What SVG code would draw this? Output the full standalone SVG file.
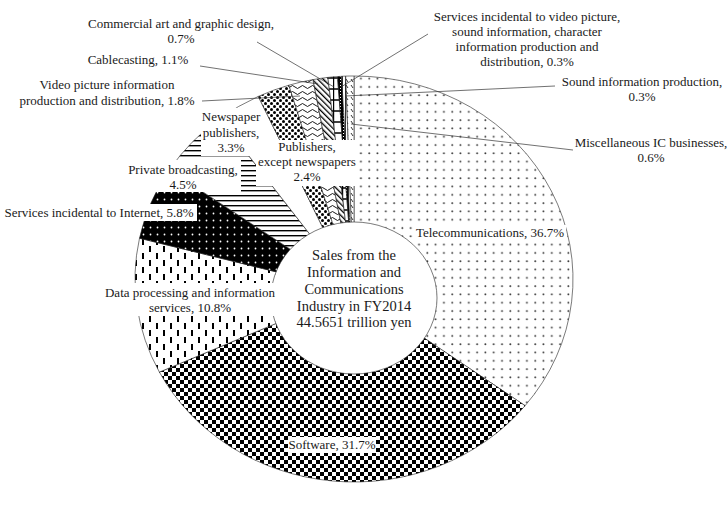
<svg xmlns="http://www.w3.org/2000/svg" width="728" height="511" viewBox="0 0 728 511">
<style>
text{font-family:"Liberation Serif","Times New Roman",serif;font-size:13px;fill:#1a1a1a;text-anchor:middle}
.ctr{font-size:14.5px}
.sl{stroke:#222;stroke-width:0.6}
.lead{stroke:#333;stroke-width:0.7;fill:none}
.bg{fill:#fff}
</style>
<defs>
<pattern id="pTel" width="8.3" height="8.3" patternUnits="userSpaceOnUse"><rect width="8.3" height="8.3" fill="#fff"/><circle cx="4" cy="4" r="0.95" fill="#333"/></pattern>
<pattern id="pSoft" width="8" height="8" patternUnits="userSpaceOnUse"><rect width="8" height="8" fill="#fff"/><rect width="4" height="4" fill="#000"/><rect x="4" y="4" width="4" height="4" fill="#000"/></pattern>
<pattern id="pData" width="14" height="14" patternUnits="userSpaceOnUse"><rect width="14" height="14" fill="#fff"/><rect x="2" y="1" width="2" height="6" fill="#000"/><rect x="9" y="8" width="2" height="6" fill="#000"/></pattern>
<pattern id="pNet" width="7" height="7" patternUnits="userSpaceOnUse"><rect width="7" height="7" fill="#000"/><circle cx="3.5" cy="3.5" r="0.9" fill="#fff"/></pattern>
<pattern id="pPriv" width="5" height="5" patternUnits="userSpaceOnUse"><rect width="5" height="5" fill="#fff"/><rect width="5" height="1.4" fill="#000"/></pattern>
<pattern id="pPub" width="6" height="6" patternUnits="userSpaceOnUse"><rect width="6" height="6" fill="#fff"/><circle cx="1.5" cy="1.5" r="1.5" fill="#000"/><circle cx="4.5" cy="4.5" r="1.5" fill="#000"/></pattern>
<pattern id="pVid" width="10" height="6" patternUnits="userSpaceOnUse"><rect width="10" height="6" fill="#fff"/><path d="M0,3 Q2.5,0 5,3 T10,3" stroke="#000" stroke-width="0.9" fill="none"/></pattern>
<pattern id="pCab" width="4" height="4" patternUnits="userSpaceOnUse" patternTransform="rotate(-45)"><rect width="4" height="4" fill="#fff"/><rect width="1.3" height="4" fill="#000"/></pattern>
<pattern id="pCom" width="9" height="11" patternUnits="userSpaceOnUse"><rect width="9" height="11" fill="#fff"/><path d="M0.5,0 V11 M0,1 H9" stroke="#000" stroke-width="1.4"/></pattern>
<pattern id="pSvc" width="3" height="3" patternUnits="userSpaceOnUse"><rect width="3" height="3" fill="#000"/><rect x="1" y="1" width="1" height="1" fill="#fff"/></pattern>
<pattern id="pSnd" width="3" height="3" patternUnits="userSpaceOnUse"><rect width="3" height="3" fill="#fff"/><rect width="0.8" height="3" fill="#000"/></pattern>
<pattern id="pMisc" width="5" height="6" patternUnits="userSpaceOnUse"><rect width="5" height="6" fill="#fff"/><path d="M1,1 L3,4" stroke="#000" stroke-width="0.8"/></pattern>
</defs>
<rect width="728" height="511" fill="#fff"/>

<g id="slices">
<g id="telecom"><path class="sl" fill="url(#pTel)" d="M354,291 L354,76 A219,203 0 0 1 525.1,405.7 Z"/></g>
<g id="software"><path class="sl" fill="url(#pSoft)" d="M354,291 L525.1,405.7 A219,203 0 0 1 159.4,372.1 Z"/></g>
<g id="data"><path class="sl" fill="url(#pData)" d="M354,291 L159.4,372.1 A219,203 0 0 1 139.5,238.2 Z"/></g>
<g id="internet"><path class="sl" fill="url(#pNet)" d="M354,291 L139.5,238.2 A219,203 0 0 1 169.3,169.9 Z"/></g>
<g id="private"><path class="sl" fill="url(#pPriv)" d="M354,291 L169.3,169.9 A219,203 0 0 1 219.8,118.6 Z"/></g>
<g id="newspaper"><path class="sl" fill="#fff" d="M354,291 L219.8,118.6 A219,203 0 0 1 258.3,96.4 Z"/></g>
<g id="publishers"><path class="sl" fill="url(#pPub)" d="M354,291 L258.3,96.4 A219,203 0 0 1 288.9,85.2 Z"/></g>
<g id="video"><path class="sl" fill="url(#pVid)" d="M354,291 L288.9,85.2 A219,203 0 0 1 313,79.6 Z"/></g>
<g id="cable"><path class="sl" fill="url(#pCab)" d="M354,291 L313,79.6 A219,203 0 0 1 327.9,77.4 Z"/></g>
<g id="commercial"><path class="sl" fill="url(#pCom)" d="M354,291 L327.9,77.4 A219,203 0 0 1 337.5,76.6 Z"/></g>
<g id="services"><path class="sl" fill="url(#pSvc)" d="M354,291 L337.5,76.6 A219,203 0 0 1 341.6,76.3 Z"/></g>
<g id="sound"><path class="sl" fill="url(#pSnd)" d="M354,291 L341.6,76.3 A219,203 0 0 1 345.7,76.1 Z"/></g>
<g id="misc"><path class="sl" fill="url(#pMisc)" d="M354,291 L345.7,76.1 A219,203 0 0 1 354,76 Z"/></g>
<ellipse id="hole" cx="354" cy="298" rx="83" ry="76" fill="#fff" stroke="#222" stroke-width="0.6"/>
</g>

<g id="connectors">
<line class="lead" x1="257" y1="42" x2="334" y2="87"/>
<line class="lead" x1="200" y1="66" x2="318" y2="84"/>
<line class="lead" x1="202" y1="101" x2="300" y2="96"/>
<line class="lead" x1="428" y1="34" x2="341" y2="87"/>
<line class="lead" x1="555" y1="86" x2="345" y2="96"/>
<line class="lead" x1="573" y1="150" x2="351" y2="124"/>
</g>

<g id="labels">
<g id="lbl-commercial"><text x="181" y="28">Commercial art and graphic design,</text><text x="181" y="43">0.7%</text></g>
<g id="lbl-cable"><text x="138" y="64">Cablecasting, 1.1%</text></g>
<g id="lbl-video"><text x="107" y="89">Video picture information</text><text x="107" y="105">production and distribution, 1.8%</text></g>
<g id="lbl-services"><text x="527" y="21">Services incidental to video picture,</text><text x="527" y="36">sound information, character</text><text x="527" y="51">information production and</text><text x="527" y="66">distribution, 0.3%</text></g>
<g id="lbl-sound"><text x="642" y="86">Sound information production,</text><text x="642" y="101">0.3%</text></g>
<g id="lbl-misc"><text x="651" y="147">Miscellaneous IC businesses,</text><text x="651" y="162">0.6%</text></g>
<g id="lbl-news"><rect class="bg" x="201" y="108" width="61" height="48"/><text x="231" y="121">Newspaper</text><text x="231" y="137">publishers,</text><text x="231" y="152">3.3%</text></g>
<g id="lbl-pub"><rect class="bg" x="256" y="140" width="101" height="46"/><text x="307" y="151">Publishers,</text><text x="307" y="166">except newspapers</text><text x="307" y="181">2.4%</text></g>
<g id="lbl-priv"><rect class="bg" x="126" y="160" width="115" height="32"/><text x="183" y="174">Private broadcasting,</text><text x="183" y="189">4.5%</text></g>
<g id="lbl-net"><rect class="bg" x="2" y="204" width="195" height="17"/><text x="99" y="217">Services incidental to Internet, 5.8%</text></g>
<g id="lbl-data"><rect class="bg" x="104" y="283" width="173" height="33"/><text x="190" y="297">Data processing and information</text><text x="190" y="312">services, 10.8%</text></g>
<g id="lbl-tel"><rect class="bg" x="415" y="225" width="151" height="16"/><text x="490" y="237">Telecommunications, 36.7%</text></g>
<g id="lbl-soft"><rect class="bg" x="288" y="437" width="88" height="16"/><text x="332" y="449">Software, 31.7%</text></g>
<g id="lbl-center"><text class="ctr" x="354" y="260">Sales from the</text><text class="ctr" x="354" y="277">Information and</text><text class="ctr" x="354" y="294">Communications</text><text class="ctr" x="354" y="311">Industry in FY2014</text><text class="ctr" x="354" y="327">44.5651 trillion yen</text></g>
</g>
</svg>
